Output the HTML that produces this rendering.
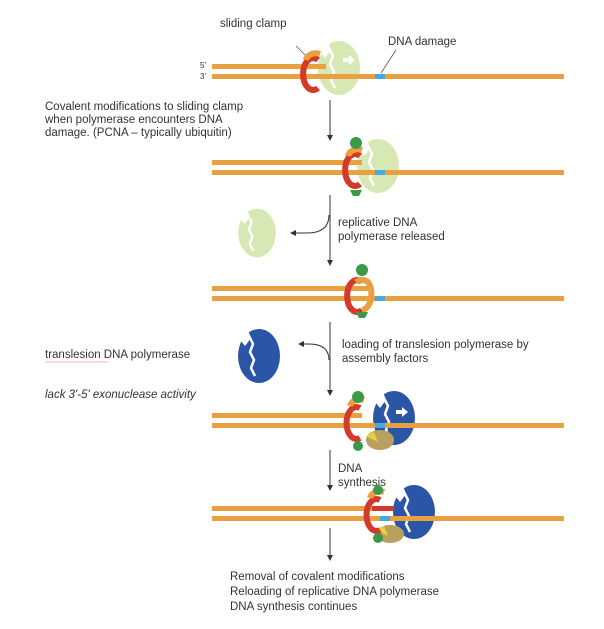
<!DOCTYPE html>
<html><head><meta charset="utf-8"><style>
html,body{margin:0;padding:0;background:#fff;}
svg{display:block;}
text{font-family:"Liberation Sans",sans-serif;font-size:11.5px;fill:#333;}
</style></head><body>
<svg width="604" height="629" viewBox="0 0 604 629" xmlns="http://www.w3.org/2000/svg">
<defs>
<marker id="ah" markerWidth="6" markerHeight="6" refX="5" refY="3" orient="auto"><path d="M0,0 L6,3 L0,6z" fill="#333"/></marker>
<g id="pol">
<ellipse cx="0" cy="0" rx="21" ry="27"/>
<path d="M-22,-20 L-12,-28 L-8,-18 L-14,-10z" fill="#fff"/>
<polyline points="-11,-22 -6,-12 -9,-4 -5,4 -8,12 -4,20" fill="none" stroke="#fff" stroke-width="2.5"/>
</g>
</defs>

<!-- Row 1 -->
<text x="220" y="27">sliding clamp</text>
<text x="388" y="45">DNA damage</text>
<text x="200" y="68" style="font-size:8px">5'</text>
<text x="200" y="79" style="font-size:8px">3'</text>
<line x1="296" y1="46" x2="310" y2="60" stroke="#555" stroke-width="0.8"/>
<line x1="396" y1="50" x2="381" y2="73" stroke="#555" stroke-width="0.8"/>
<use href="#pol" x="339" y="68" fill="#d7e8b4"/>
<rect x="212" y="64" width="114" height="5" fill="#e8a040"/>
<rect x="212" y="74" width="352" height="5" fill="#e8a040"/>
<rect x="375" y="74" width="10" height="5" fill="#4aa8e0"/>
<path d="M343,58 h6 v-3 l6,5 l-6,5 v-3 h-6z" fill="#fff"/>
<path d="M318,60 a10,16 0 1,0 0,28" fill="none" stroke="#d33a2a" stroke-width="6"/>
<path d="M306,60 a10,8 0 0,1 14,-6" fill="none" stroke="#e8a040" stroke-width="6"/>

<text x="45" y="110">Covalent modifications to sliding clamp</text>
<text x="45" y="123">when  polymerase encounters  DNA</text>
<text x="45" y="136">damage. (PCNA – typically ubiquitin)</text>
<line x1="330" y1="100" x2="330" y2="140" stroke="#333" stroke-width="1" marker-end="url(#ah)"/>

<!-- Row 2 -->
<use href="#pol" x="378" y="166" fill="#d7e8b4"/>
<rect x="212" y="160" width="150" height="5" fill="#e8a040"/>
<rect x="212" y="170" width="352" height="5" fill="#e8a040"/>
<rect x="375" y="170" width="10" height="5" fill="#4aa8e0"/>
<path d="M360,156 a10,16 0 1,0 0,28" fill="none" stroke="#d33a2a" stroke-width="6"/>
<path d="M348,156 a10,8 0 0,1 14,-6" fill="none" stroke="#e8a040" stroke-width="6"/>
<circle cx="356" cy="143" r="6" fill="#3a9a4a"/>
<path d="M350,190 h12 l-3,6 h-6z" fill="#3a9a4a"/>

<text x="338" y="226">replicative DNA</text>
<text x="338" y="240">polymerase released</text>
<line x1="330" y1="195" x2="330" y2="265" stroke="#333" stroke-width="1" marker-end="url(#ah)"/>
<path d="M329,215 q0,18 -22,18 h-16" fill="none" stroke="#333" stroke-width="1" marker-end="url(#ah)"/>
<use href="#pol" x="257" y="233" transform="translate(257 233) scale(0.9) translate(-257 -233)" fill="#d7e8b4"/>

<!-- Row 3 -->
<rect x="212" y="286" width="160" height="5" fill="#e8a040"/>
<rect x="212" y="296" width="352" height="5" fill="#e8a040"/>
<rect x="375" y="296" width="10" height="5" fill="#4aa8e0"/>
<path d="M362,282 a10,16 0 1,0 0,28" fill="none" stroke="#d33a2a" stroke-width="6"/>
<path d="M356,282 a10,10 0 0,1 12,0 a10,16 0 0,1 -6,28" fill="none" stroke="#e8a040" stroke-width="6"/>
<circle cx="362" cy="270" r="6" fill="#3a9a4a"/>
<path d="M356,312 h12 l-3,6 h-6z" fill="#3a9a4a"/>

<text x="45" y="358">translesion DNA  polymerase</text>
<line x1="45" y1="362" x2="108" y2="362" stroke="#e06060" stroke-width="0.6"/>
<text x="45" y="398" style="font-style:italic">lack 3'-5' exonuclease activity</text>
<use href="#pol" x="259" y="356" fill="#2b56a8"/>
<line x1="330" y1="322" x2="330" y2="395" stroke="#333" stroke-width="1" marker-end="url(#ah)"/>
<path d="M329,360 q0,-16 -20,-16 h-10" fill="none" stroke="#333" stroke-width="1" marker-end="url(#ah)"/>
<text x="342" y="348">loading of translesion polymerase  by</text>
<text x="342" y="362">assembly factors</text>

<!-- Row 4 -->
<use href="#pol" x="394" y="418" fill="#2b56a8"/>
<ellipse cx="380" cy="440" rx="14" ry="10" fill="#b8a060"/>
<path d="M366,436 l8,-4 l4,10z" fill="#e8d040"/>
<rect x="212" y="413" width="150" height="5" fill="#e8a040"/>
<rect x="212" y="423" width="352" height="5" fill="#e8a040"/>
<rect x="375" y="423" width="10" height="5" fill="#4aa8e0"/>
<path d="M396,410 h6 v-3 l6,5 l-6,5 v-3 h-6z" fill="#fff"/>
<path d="M360,408 a10,16 0 1,0 0,30" fill="none" stroke="#d33a2a" stroke-width="6"/>
<path d="M350,406 a10,8 0 0,1 14,-6" fill="none" stroke="#e8a040" stroke-width="6"/>
<circle cx="358" cy="397" r="6" fill="#3a9a4a"/>
<circle cx="358" cy="446" r="5" fill="#3a9a4a"/>

<line x1="330" y1="450" x2="330" y2="490" stroke="#333" stroke-width="1" marker-end="url(#ah)"/>
<text x="338" y="472">DNA</text>
<text x="338" y="486">synthesis</text>

<!-- Row 5 -->
<use href="#pol" x="414" y="512" fill="#2b56a8"/>
<ellipse cx="390" cy="534" rx="14" ry="9" fill="#b8a060"/>
<path d="M376,530 l8,-4 l4,10z" fill="#e8d040"/>
<rect x="212" y="506" width="170" height="5" fill="#e8a040"/>
<rect x="212" y="516" width="352" height="5" fill="#e8a040"/>
<rect x="372" y="506" width="22" height="5" fill="#d33a2a"/>
<rect x="380" y="516" width="10" height="5" fill="#4aa8e0"/>
<path d="M380,500 a10,16 0 1,0 0,30" fill="none" stroke="#d33a2a" stroke-width="6"/>
<path d="M370,498 a10,8 0 0,1 14,-6" fill="none" stroke="#e8a040" stroke-width="6"/>
<circle cx="378" cy="490" r="5" fill="#3a9a4a"/>
<circle cx="378" cy="538" r="5" fill="#3a9a4a"/>

<line x1="330" y1="528" x2="330" y2="560" stroke="#333" stroke-width="1" marker-end="url(#ah)"/>
<text x="230" y="580">Removal of covalent modifications</text>
<text x="230" y="595">Reloading of replicative  DNA polymerase</text>
<text x="230" y="610">DNA synthesis continues</text>
</svg>
</body></html>
